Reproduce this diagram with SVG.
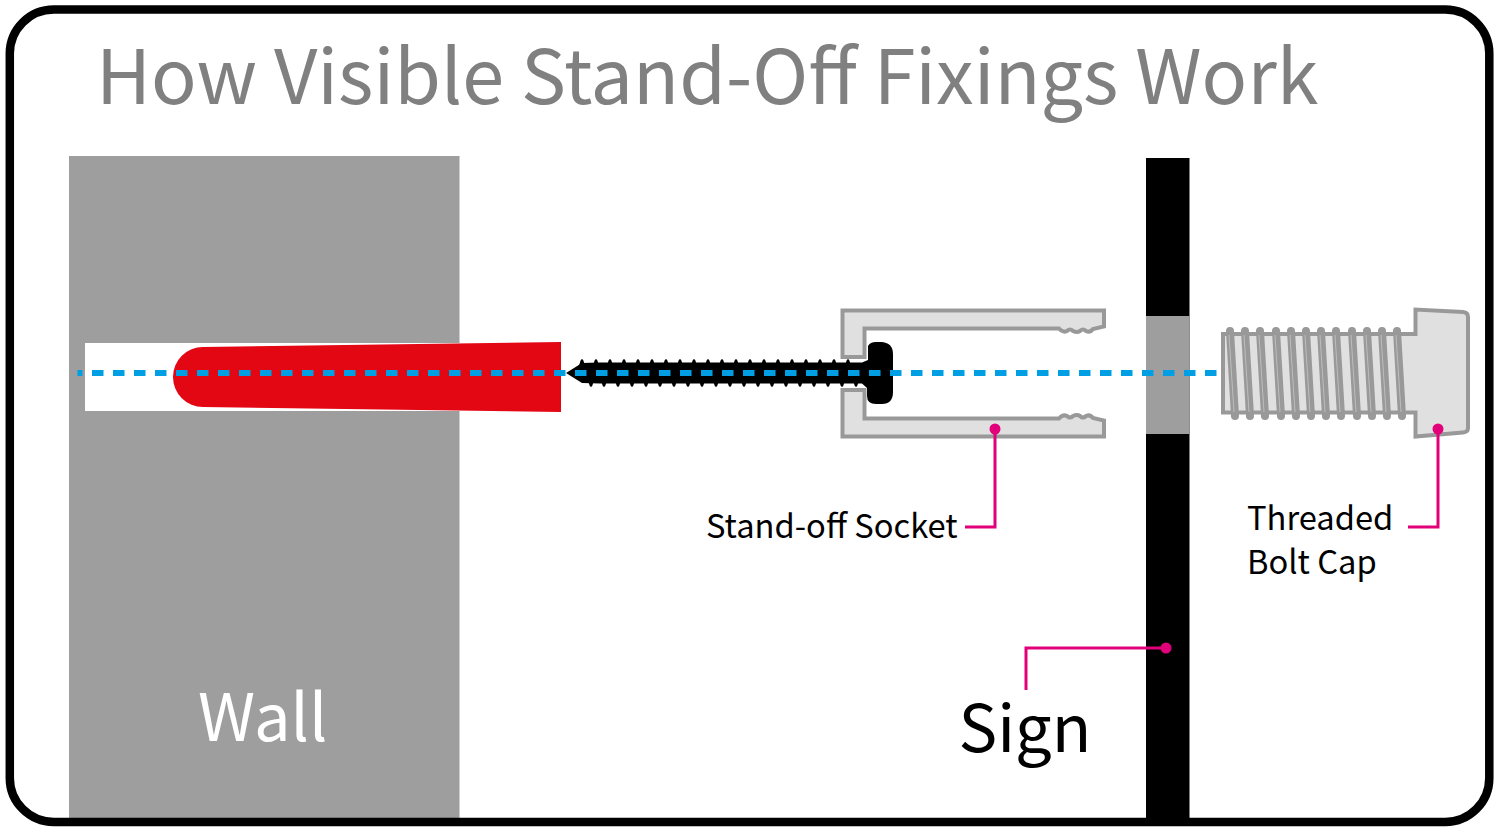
<svg xmlns="http://www.w3.org/2000/svg" width="1500" height="836" viewBox="0 0 1500 836">
<style>
text{font-family:"Noto Sans CJK JP","Noto Sans",sans-serif}
.part{fill:#e0e0e0;stroke:#999;stroke-width:4;stroke-linejoin:miter}
.lead{fill:none;stroke:#e2007a;stroke-width:3}
.dot{fill:#e2007a}
.thr{stroke:#999;stroke-width:8;stroke-linecap:round}
.thi{stroke:#bdbdbd;stroke-width:1}
</style>
<defs>
<path id="st" d="M-4.500 6-1.200 -4 0-5 1.200-4 4.500 6Z" fill="#000"/>
<g id="thread"><line class="thr" x1="0" y1="331" x2="5" y2="416"/><line class="thi" x1="-1" y1="335" x2="4" y2="412"/></g>
</defs>
<rect width="1500" height="836" fill="#fff"/>
<g id="wall">
<rect x="69" y="156" width="390.500" height="662" fill="#9e9e9e"/>
<rect x="85" y="343" width="375" height="68" fill="#fff"/>
<text x="198" y="741" font-size="65" fill="#fff">Wall</text>
</g>
<g id="plug"><path d="M203 347 561 342V412L203 407A30 30 0 0 1 203 347Z" fill="#e30613"/></g>
<g id="screw">
<path d="M566 373 582 363 600 362.500H862L868 360V346Q870 342 876 342H882Q893 343 893 354V392Q893 404 882 404H876Q867 404 867 396V388L862 383.500H600L582 383Z" fill="#000"/>
<g>
<use href="#st" x="582" y="364"/><use href="#st" x="596" y="364"/><use href="#st" x="610" y="364"/><use href="#st" x="624" y="364"/><use href="#st" x="638" y="364"/><use href="#st" x="652" y="364"/><use href="#st" x="666" y="364"/><use href="#st" x="680" y="364"/><use href="#st" x="694" y="364"/><use href="#st" x="708" y="364"/><use href="#st" x="722" y="364"/><use href="#st" x="736" y="364"/><use href="#st" x="750" y="364"/><use href="#st" x="764" y="364"/><use href="#st" x="778" y="364"/><use href="#st" x="792" y="364"/><use href="#st" x="806" y="364"/><use href="#st" x="820" y="364"/><use href="#st" x="834" y="364"/><use href="#st" x="848" y="364"/>
</g>
<g transform="translate(0 746) scale(1 -1)">
<use href="#st" x="591" y="364"/><use href="#st" x="604" y="364"/><use href="#st" x="618" y="364"/><use href="#st" x="632" y="364"/><use href="#st" x="646" y="364"/><use href="#st" x="660" y="364"/><use href="#st" x="674" y="364"/><use href="#st" x="688" y="364"/><use href="#st" x="702" y="364"/><use href="#st" x="716" y="364"/><use href="#st" x="730" y="364"/><use href="#st" x="744" y="364"/><use href="#st" x="758" y="364"/><use href="#st" x="772" y="364"/><use href="#st" x="786" y="364"/><use href="#st" x="800" y="364"/><use href="#st" x="814" y="364"/><use href="#st" x="828" y="364"/><use href="#st" x="842" y="364"/><use href="#st" x="856" y="364"/>
</g>
</g>
<g id="socket">
<path class="part" d="M842.500 310.500H1104V326.500L1093 329Q1090 333 1086 331Q1083 328 1080 331Q1077 333 1073 331Q1070 328 1067 331Q1063 333 1059 328.500H864.500V357H842.500Z"/>
<path class="part" d="M842.500 436.500H1104V420.500L1093 418Q1090 414 1086 416Q1083 419 1080 416Q1077 414 1073 416Q1070 419 1067 416Q1063 414 1059 418.500H864.500V390H842.500Z"/>
</g>
<g id="sign">
<rect x="1146" y="158" width="43.500" height="660" fill="#000"/>
<rect x="1146" y="316" width="43.500" height="118" fill="#9e9e9e"/>
<text x="958.500" y="752" font-size="65" fill="#000">Sign</text>
</g>
<g id="bolt">
<path class="part" d="M1223 334H1415.500V309.500L1463 312Q1468 312.500 1468 317V428Q1468 432 1463 432.500L1415.500 436.500V412.500H1223Z"/>
<use href="#thread" x="1230"/><use href="#thread" x="1245"/><use href="#thread" x="1260"/><use href="#thread" x="1276"/><use href="#thread" x="1291"/><use href="#thread" x="1306"/><use href="#thread" x="1321"/><use href="#thread" x="1336"/><use href="#thread" x="1352"/><use href="#thread" x="1367"/><use href="#thread" x="1382"/><use href="#thread" x="1397"/>
</g>
<g id="connectors">
<line x1="77.500" y1="373" x2="1221" y2="373" stroke="#009fe3" stroke-width="6" stroke-dasharray="11.500 9.500" stroke-dashoffset="6.500"/>
<path class="lead" d="M995 429V527H965"/><circle class="dot" cx="995" cy="429" r="5.500"/>
<path class="lead" d="M1438 429V527H1408"/><circle class="dot" cx="1438" cy="429" r="5.500"/>
<path class="lead" d="M1166 648H1026V690"/><circle class="dot" cx="1166" cy="648" r="5.500"/>
</g>
<g id="title"><text x="96" y="103.500" font-size="75.500" fill="#808080">How Visible Stand-Off Fixings Work</text></g>
<g id="labels">
<text x="706" y="538" font-size="32.700" fill="#000">Stand-off Socket</text>
<text x="1247" y="530" font-size="32.700" fill="#000">Threaded</text>
<text x="1247" y="574" font-size="32.700" fill="#000">Bolt Cap</text>
</g>
<rect id="frame" x="9.800" y="9.500" width="1479.500" height="812.500" rx="44" fill="none" stroke="#000" stroke-width="8.500"/>
</svg>
